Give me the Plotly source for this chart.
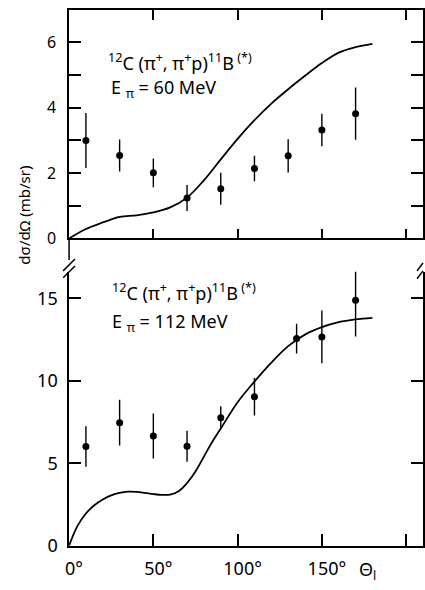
import plotly.graph_objects as go

# ---- data: pi+ 60 MeV ----
theta_60 = [10, 30, 50, 70, 90, 110, 130, 150, 170]
xs_60 = [3.00, 2.54, 2.01, 1.24, 1.52, 2.14, 2.53, 3.32, 3.82]
err_60 = [0.84, 0.49, 0.44, 0.40, 0.49, 0.39, 0.51, 0.50, 0.80]

curve_theta_60 = [0, 10, 20, 30, 40, 50, 60, 70, 80, 90, 100, 110, 120, 130, 140, 150, 160, 170, 180]
curve_60 = [0.0, 0.29, 0.49, 0.66, 0.71, 0.80, 0.95, 1.25, 1.78, 2.42, 3.05, 3.62, 4.13, 4.57, 4.98, 5.37, 5.69, 5.86, 5.96]

# ---- data: pi+ 112 MeV ----
theta_112 = [10, 30, 50, 70, 90, 110, 135, 150, 170]
xs_112 = [6.01, 7.46, 6.65, 6.03, 7.76, 9.03, 12.56, 12.66, 14.88]
err_112 = [1.23, 1.39, 1.37, 0.94, 0.69, 1.14, 0.90, 1.60, 2.20]

curve_theta_112 = [0, 5, 10, 15, 20, 25, 30, 35, 40, 45, 50, 55, 60, 65, 70, 75, 80, 85, 90,
                   100, 110, 120, 130, 140, 150, 160, 170, 180]
curve_112 = [0.0, 1.2, 1.95, 2.45, 2.8, 3.05, 3.2, 3.27, 3.26, 3.2, 3.13, 3.08, 3.1, 3.3, 3.8, 4.5, 5.4, 6.3, 7.1,
             8.7, 9.95, 11.1, 12.1, 12.8, 13.25, 13.55, 13.72, 13.82]

x_ticks = [0, 50, 100, 150, 200]
x_ticktext = ["0°", "50°", "100°", "150°", ""]
y_ticks_top = [0, 1, 2, 3, 4, 5, 6]
y_ticktext_top = ["0", "", "2", "", "4", "", "6"]
y_ticks_bottom = [0, 5, 10, 15]

W, H = 425, 590
FONT = "Noto Sans"


def px(x):
    return x / W


def py(y):
    return 1 - y / H


fig = go.Figure()

# top panel
fig.add_trace(go.Scatter(x=curve_theta_60, y=curve_60, mode="lines",
                         line=dict(color="black", width=1.8, shape="spline", smoothing=1.0),
                         xaxis="x", yaxis="y", showlegend=False))
fig.add_trace(go.Scatter(x=theta_60, y=xs_60, mode="markers",
                         marker=dict(color="black", size=7),
                         error_y=dict(type="data", array=err_60, width=0, thickness=1.4, color="black"),
                         xaxis="x", yaxis="y", showlegend=False))

# bottom panel
fig.add_trace(go.Scatter(x=curve_theta_112, y=curve_112, mode="lines",
                         line=dict(color="black", width=1.8, shape="spline", smoothing=1.0),
                         xaxis="x2", yaxis="y2", showlegend=False))
fig.add_trace(go.Scatter(x=theta_112, y=xs_112, mode="markers",
                         marker=dict(color="black", size=7),
                         error_y=dict(type="data", array=err_112, width=0, thickness=1.4, color="black"),
                         xaxis="x2", yaxis="y2", showlegend=False))

x_dom = [px(66), 1.0]
axis_common = dict(showline=True, linecolor="black", linewidth=1.5, ticks="inside",
                   tickcolor="black", tickwidth=1.5, showgrid=False, zeroline=False)

fig.update_layout(
    width=W, height=H,
    margin=dict(l=0, r=0, t=0, b=0),
    paper_bgcolor="white", plot_bgcolor="white",
    font=dict(family=FONT, color="black"),
    xaxis=dict(domain=x_dom, range=[0, 210], anchor="y", mirror="ticks",
               tickvals=x_ticks, showticklabels=False, ticklen=10, **axis_common),
    yaxis=dict(domain=[py(243), py(10)], range=[0, 7], anchor="x", mirror="ticks",
               tickvals=y_ticks_top, ticktext=y_ticktext_top, ticklen=12,
               tickfont=dict(size=16), ticklabelstandoff=8, **axis_common),
    xaxis2=dict(domain=x_dom, range=[0, 210], anchor="y2",
                tickvals=x_ticks, ticktext=x_ticktext, ticklen=12,
                tickfont=dict(size=18), ticklabelshift=5, ticklabelstandoff=6, **axis_common),
    yaxis2=dict(domain=[py(556), py(277)], range=[0, (556 - 277) / 16.8], anchor="x2", mirror="ticks",
                tickvals=y_ticks_bottom, ticklen=12, tickfont=dict(size=18),
                ticklabelstandoff=6, **axis_common),
)

line_style = dict(color="black", width=1.5)
# axis continuation and break marks between the panels
fig.add_shape(type="line", xref="paper", yref="paper",
              x0=px(66), x1=px(66), y0=py(243), y1=py(265), line=line_style)
for y_low, y_high in [(276, 264), (283, 271)]:
    fig.add_shape(type="line", xref="paper", yref="paper",
                  x0=px(60), x1=px(72), y0=py(y_low), y1=py(y_high), line=line_style)
for y_low, y_high in [(276, 268), (284, 276)]:
    fig.add_shape(type="line", xref="paper", yref="paper",
                  x0=px(419), x1=px(425), y0=py(y_low), y1=py(y_high), line=line_style)

reaction = "<sup>12</sup>C (π<sup>+</sup>, π<sup>+</sup>p)<sup>11</sup>B<sup> (*)</sup>"
annos = [
    (103, 63, reaction),
    (107, 90, "E <sub>π</sub> = 60 MeV"),
    (108, 298, reaction),
    (108, 329, "E <sub>π</sub> = 112 MeV"),
]
for x, y, t in annos:
    fig.add_annotation(x=px(x), y=py(y), xref="paper", yref="paper", text=t,
                       showarrow=False, xanchor="left", yanchor="middle",
                       font=dict(size=18, family=FONT))

fig.add_annotation(x=px(369), y=py(581), xref="paper", yref="paper", text="Θ<sub>l</sub>",
                   showarrow=False, xanchor="center", yanchor="middle", font=dict(size=18, family=FONT))
fig.add_annotation(x=px(20), y=py(219), xref="paper", yref="paper", text="dσ/dΩ (mb/sr)",
                   textangle=-90, showarrow=False, xanchor="center", yanchor="middle",
                   font=dict(size=15, family=FONT))

fig.write_html("out.html")
